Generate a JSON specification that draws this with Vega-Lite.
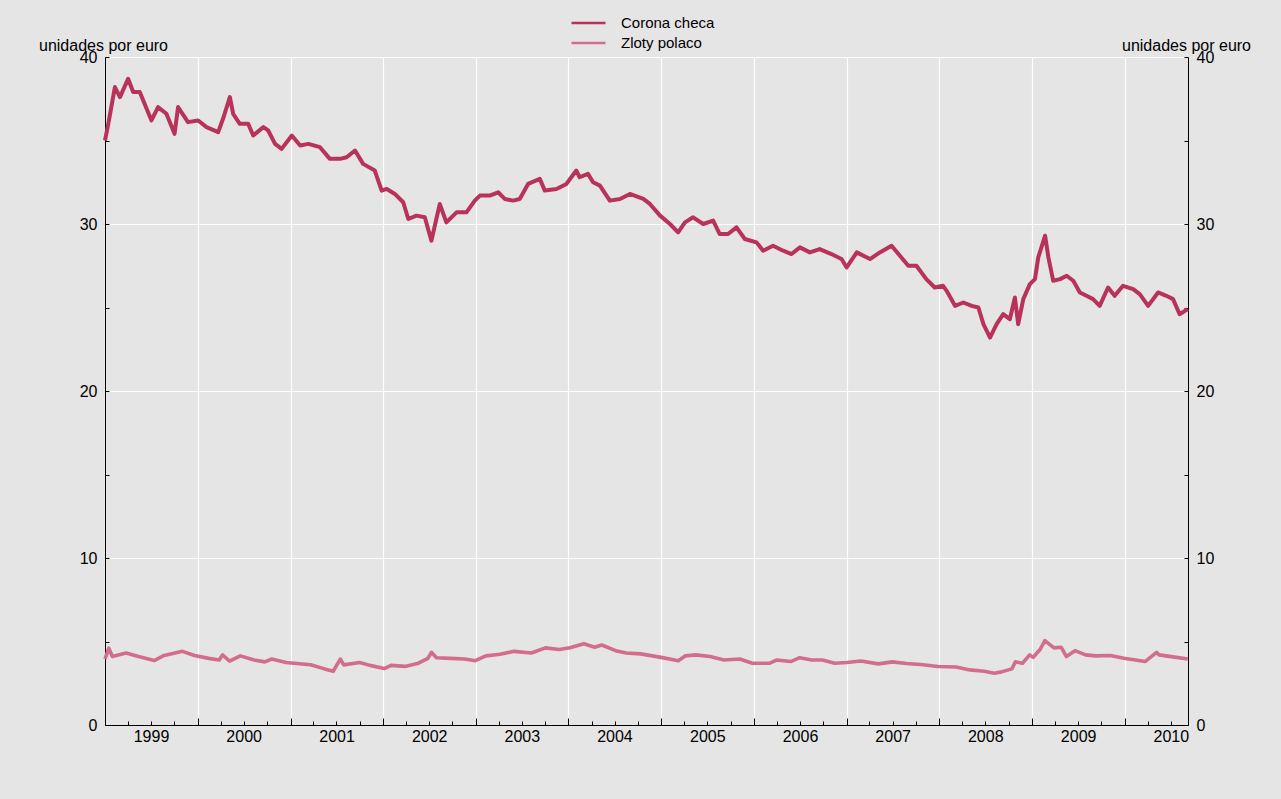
{
  "$schema": "https://vega.github.io/schema/vega-lite/v6.json",
  "width": 1083,
  "height": 668,
  "autosize": {"type": "none"},
  "padding": {"left": 105, "top": 57, "right": 93, "bottom": 74},
  "background": "#e5e5e5",
  "config": {
    "font": "Liberation Sans",
    "view": {"stroke": null},
    "axis": {"labelFont": "Liberation Sans", "titleFont": "Liberation Sans", "labelColor": "black", "titleColor": "black", "domainColor": "black", "tickColor": "black", "gridColor": "white", "gridWidth": 1.2, "labelFontSize": 16, "titleFontSize": 16, "titleFontWeight": "normal"}
  },
  "data": {
    "values": [
      {"d": "1999-01-01", "s": "Corona checa", "v": 35.0},
      {"d": "1999-01-14", "s": "Corona checa", "v": 36.0},
      {"d": "1999-02-09", "s": "Corona checa", "v": 38.2},
      {"d": "1999-03-01", "s": "Corona checa", "v": 37.6},
      {"d": "1999-04-02", "s": "Corona checa", "v": 38.7},
      {"d": "1999-04-22", "s": "Corona checa", "v": 37.9},
      {"d": "1999-05-18", "s": "Corona checa", "v": 37.9},
      {"d": "1999-07-03", "s": "Corona checa", "v": 36.2},
      {"d": "1999-07-29", "s": "Corona checa", "v": 37.0},
      {"d": "1999-08-31", "s": "Corona checa", "v": 36.6},
      {"d": "1999-10-02", "s": "Corona checa", "v": 35.4},
      {"d": "1999-10-16", "s": "Corona checa", "v": 37.0},
      {"d": "1999-11-24", "s": "Corona checa", "v": 36.1},
      {"d": "2000-01-03", "s": "Corona checa", "v": 36.2},
      {"d": "2000-02-05", "s": "Corona checa", "v": 35.8},
      {"d": "2000-03-22", "s": "Corona checa", "v": 35.5},
      {"d": "2000-04-10", "s": "Corona checa", "v": 36.3},
      {"d": "2000-05-07", "s": "Corona checa", "v": 37.6},
      {"d": "2000-05-20", "s": "Corona checa", "v": 36.6},
      {"d": "2000-06-15", "s": "Corona checa", "v": 36.0},
      {"d": "2000-07-18", "s": "Corona checa", "v": 36.0},
      {"d": "2000-08-07", "s": "Corona checa", "v": 35.3},
      {"d": "2000-09-16", "s": "Corona checa", "v": 35.8},
      {"d": "2000-10-05", "s": "Corona checa", "v": 35.6},
      {"d": "2000-11-01", "s": "Corona checa", "v": 34.8},
      {"d": "2000-11-27", "s": "Corona checa", "v": 34.5},
      {"d": "2001-01-06", "s": "Corona checa", "v": 35.3},
      {"d": "2001-02-08", "s": "Corona checa", "v": 34.7},
      {"d": "2001-03-12", "s": "Corona checa", "v": 34.8},
      {"d": "2001-04-27", "s": "Corona checa", "v": 34.6},
      {"d": "2001-06-05", "s": "Corona checa", "v": 33.9},
      {"d": "2001-07-15", "s": "Corona checa", "v": 33.9},
      {"d": "2001-08-10", "s": "Corona checa", "v": 34.0},
      {"d": "2001-09-12", "s": "Corona checa", "v": 34.4},
      {"d": "2001-10-14", "s": "Corona checa", "v": 33.6},
      {"d": "2001-11-29", "s": "Corona checa", "v": 33.2},
      {"d": "2001-12-26", "s": "Corona checa", "v": 32.0},
      {"d": "2002-01-15", "s": "Corona checa", "v": 32.1},
      {"d": "2002-02-16", "s": "Corona checa", "v": 31.8},
      {"d": "2002-03-21", "s": "Corona checa", "v": 31.3},
      {"d": "2002-04-10", "s": "Corona checa", "v": 30.3},
      {"d": "2002-05-12", "s": "Corona checa", "v": 30.5},
      {"d": "2002-06-14", "s": "Corona checa", "v": 30.4},
      {"d": "2002-07-10", "s": "Corona checa", "v": 29.0},
      {"d": "2002-08-12", "s": "Corona checa", "v": 31.2},
      {"d": "2002-09-07", "s": "Corona checa", "v": 30.1},
      {"d": "2002-10-17", "s": "Corona checa", "v": 30.7},
      {"d": "2002-11-25", "s": "Corona checa", "v": 30.7},
      {"d": "2002-12-28", "s": "Corona checa", "v": 31.4},
      {"d": "2003-01-17", "s": "Corona checa", "v": 31.7},
      {"d": "2003-02-25", "s": "Corona checa", "v": 31.7},
      {"d": "2003-03-30", "s": "Corona checa", "v": 31.9},
      {"d": "2003-04-25", "s": "Corona checa", "v": 31.5},
      {"d": "2003-05-28", "s": "Corona checa", "v": 31.4},
      {"d": "2003-06-23", "s": "Corona checa", "v": 31.5},
      {"d": "2003-07-26", "s": "Corona checa", "v": 32.4},
      {"d": "2003-09-10", "s": "Corona checa", "v": 32.7},
      {"d": "2003-09-30", "s": "Corona checa", "v": 32.0},
      {"d": "2003-11-15", "s": "Corona checa", "v": 32.1},
      {"d": "2003-12-24", "s": "Corona checa", "v": 32.4},
      {"d": "2004-02-01", "s": "Corona checa", "v": 33.2},
      {"d": "2004-02-14", "s": "Corona checa", "v": 32.8},
      {"d": "2004-03-18", "s": "Corona checa", "v": 33.0},
      {"d": "2004-04-07", "s": "Corona checa", "v": 32.5},
      {"d": "2004-05-04", "s": "Corona checa", "v": 32.3},
      {"d": "2004-06-12", "s": "Corona checa", "v": 31.4},
      {"d": "2004-07-22", "s": "Corona checa", "v": 31.5},
      {"d": "2004-08-30", "s": "Corona checa", "v": 31.8},
      {"d": "2004-10-22", "s": "Corona checa", "v": 31.5},
      {"d": "2004-11-17", "s": "Corona checa", "v": 31.2},
      {"d": "2004-12-27", "s": "Corona checa", "v": 30.5},
      {"d": "2005-02-04", "s": "Corona checa", "v": 30.0},
      {"d": "2005-03-08", "s": "Corona checa", "v": 29.5},
      {"d": "2005-04-04", "s": "Corona checa", "v": 30.1},
      {"d": "2005-05-06", "s": "Corona checa", "v": 30.4},
      {"d": "2005-06-15", "s": "Corona checa", "v": 30.0},
      {"d": "2005-07-24", "s": "Corona checa", "v": 30.2},
      {"d": "2005-08-19", "s": "Corona checa", "v": 29.4},
      {"d": "2005-09-21", "s": "Corona checa", "v": 29.4},
      {"d": "2005-10-24", "s": "Corona checa", "v": 29.8},
      {"d": "2005-11-26", "s": "Corona checa", "v": 29.1},
      {"d": "2006-01-11", "s": "Corona checa", "v": 28.9},
      {"d": "2006-02-06", "s": "Corona checa", "v": 28.4},
      {"d": "2006-03-17", "s": "Corona checa", "v": 28.7},
      {"d": "2006-04-26", "s": "Corona checa", "v": 28.4},
      {"d": "2006-05-29", "s": "Corona checa", "v": 28.2},
      {"d": "2006-07-01", "s": "Corona checa", "v": 28.6},
      {"d": "2006-08-09", "s": "Corona checa", "v": 28.3},
      {"d": "2006-09-17", "s": "Corona checa", "v": 28.5},
      {"d": "2006-11-02", "s": "Corona checa", "v": 28.2},
      {"d": "2006-12-12", "s": "Corona checa", "v": 27.9},
      {"d": "2007-01-01", "s": "Corona checa", "v": 27.4},
      {"d": "2007-02-10", "s": "Corona checa", "v": 28.3},
      {"d": "2007-04-03", "s": "Corona checa", "v": 27.9},
      {"d": "2007-05-12", "s": "Corona checa", "v": 28.3},
      {"d": "2007-06-27", "s": "Corona checa", "v": 28.7},
      {"d": "2007-07-30", "s": "Corona checa", "v": 28.1},
      {"d": "2007-09-01", "s": "Corona checa", "v": 27.5},
      {"d": "2007-10-03", "s": "Corona checa", "v": 27.5},
      {"d": "2007-11-11", "s": "Corona checa", "v": 26.7},
      {"d": "2007-12-14", "s": "Corona checa", "v": 26.2},
      {"d": "2008-01-16", "s": "Corona checa", "v": 26.3},
      {"d": "2008-01-30", "s": "Corona checa", "v": 26.0},
      {"d": "2008-03-03", "s": "Corona checa", "v": 25.1},
      {"d": "2008-04-05", "s": "Corona checa", "v": 25.3},
      {"d": "2008-05-08", "s": "Corona checa", "v": 25.1},
      {"d": "2008-06-03", "s": "Corona checa", "v": 25.0},
      {"d": "2008-06-23", "s": "Corona checa", "v": 24.0},
      {"d": "2008-07-19", "s": "Corona checa", "v": 23.2},
      {"d": "2008-08-14", "s": "Corona checa", "v": 24.0},
      {"d": "2008-09-09", "s": "Corona checa", "v": 24.6},
      {"d": "2008-10-05", "s": "Corona checa", "v": 24.3},
      {"d": "2008-10-25", "s": "Corona checa", "v": 25.6},
      {"d": "2008-11-07", "s": "Corona checa", "v": 24.0},
      {"d": "2008-11-27", "s": "Corona checa", "v": 25.5},
      {"d": "2008-12-23", "s": "Corona checa", "v": 26.4},
      {"d": "2009-01-12", "s": "Corona checa", "v": 26.7},
      {"d": "2009-01-25", "s": "Corona checa", "v": 28.0},
      {"d": "2009-02-21", "s": "Corona checa", "v": 29.3},
      {"d": "2009-03-06", "s": "Corona checa", "v": 28.0},
      {"d": "2009-03-25", "s": "Corona checa", "v": 26.6},
      {"d": "2009-04-21", "s": "Corona checa", "v": 26.7},
      {"d": "2009-05-17", "s": "Corona checa", "v": 26.9},
      {"d": "2009-06-12", "s": "Corona checa", "v": 26.6},
      {"d": "2009-07-08", "s": "Corona checa", "v": 25.9},
      {"d": "2009-08-03", "s": "Corona checa", "v": 25.7},
      {"d": "2009-08-29", "s": "Corona checa", "v": 25.5},
      {"d": "2009-09-24", "s": "Corona checa", "v": 25.1},
      {"d": "2009-10-27", "s": "Corona checa", "v": 26.2},
      {"d": "2009-11-22", "s": "Corona checa", "v": 25.7},
      {"d": "2009-12-25", "s": "Corona checa", "v": 26.3},
      {"d": "2010-02-03", "s": "Corona checa", "v": 26.1},
      {"d": "2010-03-01", "s": "Corona checa", "v": 25.8},
      {"d": "2010-04-03", "s": "Corona checa", "v": 25.1},
      {"d": "2010-05-12", "s": "Corona checa", "v": 25.9},
      {"d": "2010-06-14", "s": "Corona checa", "v": 25.7},
      {"d": "2010-07-10", "s": "Corona checa", "v": 25.5},
      {"d": "2010-08-05", "s": "Corona checa", "v": 24.6},
      {"d": "2010-09-06", "s": "Corona checa", "v": 24.9},
      {"d": "1999-01-01", "s": "Zloty polaco", "v": 3.95},
      {"d": "1999-01-16", "s": "Zloty polaco", "v": 4.6},
      {"d": "1999-01-30", "s": "Zloty polaco", "v": 4.1},
      {"d": "1999-03-25", "s": "Zloty polaco", "v": 4.31},
      {"d": "1999-05-13", "s": "Zloty polaco", "v": 4.1},
      {"d": "1999-07-14", "s": "Zloty polaco", "v": 3.86},
      {"d": "1999-08-18", "s": "Zloty polaco", "v": 4.14},
      {"d": "1999-11-02", "s": "Zloty polaco", "v": 4.41},
      {"d": "1999-12-20", "s": "Zloty polaco", "v": 4.16},
      {"d": "2000-02-14", "s": "Zloty polaco", "v": 3.99},
      {"d": "2000-03-26", "s": "Zloty polaco", "v": 3.89},
      {"d": "2000-04-08", "s": "Zloty polaco", "v": 4.2},
      {"d": "2000-05-06", "s": "Zloty polaco", "v": 3.83},
      {"d": "2000-06-17", "s": "Zloty polaco", "v": 4.14},
      {"d": "2000-08-11", "s": "Zloty polaco", "v": 3.89},
      {"d": "2000-09-22", "s": "Zloty polaco", "v": 3.78},
      {"d": "2000-10-19", "s": "Zloty polaco", "v": 3.95},
      {"d": "2000-12-14", "s": "Zloty polaco", "v": 3.74},
      {"d": "2001-03-21", "s": "Zloty polaco", "v": 3.61},
      {"d": "2001-05-15", "s": "Zloty polaco", "v": 3.36},
      {"d": "2001-06-18", "s": "Zloty polaco", "v": 3.22},
      {"d": "2001-07-16", "s": "Zloty polaco", "v": 3.95},
      {"d": "2001-07-30", "s": "Zloty polaco", "v": 3.6},
      {"d": "2001-09-30", "s": "Zloty polaco", "v": 3.74},
      {"d": "2001-11-10", "s": "Zloty polaco", "v": 3.57},
      {"d": "2002-01-05", "s": "Zloty polaco", "v": 3.38},
      {"d": "2002-02-01", "s": "Zloty polaco", "v": 3.57},
      {"d": "2002-03-28", "s": "Zloty polaco", "v": 3.51},
      {"d": "2002-05-16", "s": "Zloty polaco", "v": 3.68},
      {"d": "2002-06-26", "s": "Zloty polaco", "v": 3.99},
      {"d": "2002-07-10", "s": "Zloty polaco", "v": 4.35},
      {"d": "2002-07-30", "s": "Zloty polaco", "v": 4.03},
      {"d": "2002-09-24", "s": "Zloty polaco", "v": 3.99},
      {"d": "2002-11-18", "s": "Zloty polaco", "v": 3.95},
      {"d": "2002-12-30", "s": "Zloty polaco", "v": 3.85},
      {"d": "2003-02-10", "s": "Zloty polaco", "v": 4.14},
      {"d": "2003-04-06", "s": "Zloty polaco", "v": 4.24},
      {"d": "2003-05-31", "s": "Zloty polaco", "v": 4.41},
      {"d": "2003-08-08", "s": "Zloty polaco", "v": 4.31},
      {"d": "2003-10-02", "s": "Zloty polaco", "v": 4.62},
      {"d": "2003-11-26", "s": "Zloty polaco", "v": 4.52},
      {"d": "2004-01-07", "s": "Zloty polaco", "v": 4.62},
      {"d": "2004-03-02", "s": "Zloty polaco", "v": 4.87},
      {"d": "2004-04-13", "s": "Zloty polaco", "v": 4.66},
      {"d": "2004-05-11", "s": "Zloty polaco", "v": 4.79},
      {"d": "2004-07-05", "s": "Zloty polaco", "v": 4.45},
      {"d": "2004-08-16", "s": "Zloty polaco", "v": 4.31},
      {"d": "2004-10-11", "s": "Zloty polaco", "v": 4.26},
      {"d": "2004-12-31", "s": "Zloty polaco", "v": 4.05},
      {"d": "2005-03-09", "s": "Zloty polaco", "v": 3.85},
      {"d": "2005-04-06", "s": "Zloty polaco", "v": 4.14},
      {"d": "2005-05-17", "s": "Zloty polaco", "v": 4.2},
      {"d": "2005-07-12", "s": "Zloty polaco", "v": 4.1},
      {"d": "2005-09-05", "s": "Zloty polaco", "v": 3.89},
      {"d": "2005-11-06", "s": "Zloty polaco", "v": 3.95},
      {"d": "2005-12-25", "s": "Zloty polaco", "v": 3.7},
      {"d": "2006-03-04", "s": "Zloty polaco", "v": 3.7},
      {"d": "2006-03-31", "s": "Zloty polaco", "v": 3.89},
      {"d": "2006-05-26", "s": "Zloty polaco", "v": 3.8},
      {"d": "2006-06-30", "s": "Zloty polaco", "v": 4.03},
      {"d": "2006-08-17", "s": "Zloty polaco", "v": 3.89},
      {"d": "2006-09-28", "s": "Zloty polaco", "v": 3.89},
      {"d": "2006-11-15", "s": "Zloty polaco", "v": 3.7},
      {"d": "2007-01-02", "s": "Zloty polaco", "v": 3.74},
      {"d": "2007-02-26", "s": "Zloty polaco", "v": 3.83},
      {"d": "2007-05-06", "s": "Zloty polaco", "v": 3.66},
      {"d": "2007-06-30", "s": "Zloty polaco", "v": 3.78},
      {"d": "2007-08-25", "s": "Zloty polaco", "v": 3.68},
      {"d": "2007-10-19", "s": "Zloty polaco", "v": 3.62},
      {"d": "2007-12-27", "s": "Zloty polaco", "v": 3.5},
      {"d": "2008-03-07", "s": "Zloty polaco", "v": 3.47},
      {"d": "2008-05-01", "s": "Zloty polaco", "v": 3.3},
      {"d": "2008-06-25", "s": "Zloty polaco", "v": 3.22},
      {"d": "2008-08-05", "s": "Zloty polaco", "v": 3.1},
      {"d": "2008-09-02", "s": "Zloty polaco", "v": 3.18},
      {"d": "2008-10-13", "s": "Zloty polaco", "v": 3.36},
      {"d": "2008-10-27", "s": "Zloty polaco", "v": 3.78},
      {"d": "2008-11-24", "s": "Zloty polaco", "v": 3.7},
      {"d": "2008-12-22", "s": "Zloty polaco", "v": 4.2},
      {"d": "2009-01-05", "s": "Zloty polaco", "v": 4.05},
      {"d": "2009-02-01", "s": "Zloty polaco", "v": 4.52},
      {"d": "2009-02-20", "s": "Zloty polaco", "v": 5.05},
      {"d": "2009-03-28", "s": "Zloty polaco", "v": 4.62},
      {"d": "2009-04-25", "s": "Zloty polaco", "v": 4.66},
      {"d": "2009-05-16", "s": "Zloty polaco", "v": 4.1},
      {"d": "2009-06-19", "s": "Zloty polaco", "v": 4.45},
      {"d": "2009-07-30", "s": "Zloty polaco", "v": 4.2},
      {"d": "2009-09-09", "s": "Zloty polaco", "v": 4.14},
      {"d": "2009-11-04", "s": "Zloty polaco", "v": 4.16},
      {"d": "2009-12-29", "s": "Zloty polaco", "v": 4.0},
      {"d": "2010-03-22", "s": "Zloty polaco", "v": 3.8},
      {"d": "2010-05-06", "s": "Zloty polaco", "v": 4.35},
      {"d": "2010-05-16", "s": "Zloty polaco", "v": 4.2},
      {"d": "2010-07-10", "s": "Zloty polaco", "v": 4.08},
      {"d": "2010-09-06", "s": "Zloty polaco", "v": 3.95}
    ]
  },
  "encoding": {
    "x": {
      "field": "d",
      "type": "temporal",
      "scale": {"type": "utc", "nice": false, "domain": [{"year": 1999, "month": 1, "date": 1, "utc": true}, {"year": 2010, "month": 9, "date": 7, "utc": true}]},
      "axis": {
        "title": null,
        "tickCount": {"interval": "month", "step": 3},
        "labelExpr": "utcmonth(datum.value) == 0 ? utcFormat(datum.value, '%Y') : ''",
        "labelOffset": 46,
        "labelOverlap": false,
        "labelFlush": false,
        "labelPadding": 10,
        "labelBaseline": "top",
        "tickSize": {"condition": {"test": "utcmonth(datum.value) == 0", "value": -7}, "value": -4},
        "grid": true,
        "gridOpacity": {"condition": {"test": "utcmonth(datum.value) == 0", "value": 1}, "value": 0}
      }
    },
    "color": {
      "field": "s",
      "type": "nominal",
      "scale": {"domain": ["Corona checa", "Zloty polaco"], "range": ["#b8325a", "#d26e8c"]},
      "legend": {
        "title": null,
        "orient": "none",
        "legendX": 465,
        "legendY": -43,
        "padding": 0,
        "symbolType": "stroke",
        "symbolSize": 1156,
        "symbolStrokeWidth": 2.5,
        "clipHeight": 18,
        "rowPadding": 2,
        "labelOffset": 14,
        "labelFontSize": 15,
        "labelFont": "Liberation Sans",
        "labelColor": "black"
      }
    }
  },
  "layer": [
    {
      "transform": [{"filter": "datum.s == 'Corona checa'"}],
      "mark": {"type": "line", "strokeWidth": 4, "strokeJoin": "round"},
      "encoding": {
        "y": {
          "field": "v",
          "type": "quantitative",
          "scale": {"domain": [0, 40], "nice": false},
          "axis": {
            "orient": "left",
            "title": "unidades por euro",
            "titleAngle": 0,
            "titleAlign": "center",
            "titleBaseline": "alphabetic",
            "titleX": -2,
            "titleY": -7,
            "values": [0, 5, 10, 15, 20, 25, 30, 35, 40],
            "labelExpr": "datum.value % 10 == 0 ? datum.label : ''",
            "tickSize": -4,
            "labelPadding": 12,
            "grid": true,
            "gridOpacity": {"condition": {"test": "datum.value % 10 == 0", "value": 1}, "value": 0}
          }
        }
      }
    },
    {
      "transform": [{"filter": "datum.s == 'Zloty polaco'"}],
      "mark": {"type": "line", "strokeWidth": 3.6, "strokeJoin": "round"},
      "encoding": {
        "y": {
          "field": "v",
          "type": "quantitative",
          "scale": {"domain": [0, 40], "nice": false},
          "axis": {
            "orient": "right",
            "title": "unidades por euro",
            "titleAngle": 0,
            "titleAlign": "center",
            "titleBaseline": "alphabetic",
            "titleX": -2,
            "titleY": -7,
            "values": [0, 5, 10, 15, 20, 25, 30, 35, 40],
            "labelExpr": "datum.value % 10 == 0 ? datum.label : ''",
            "tickSize": -4,
            "labelPadding": 12,
            "grid": false
          }
        }
      }
    }
  ],
  "resolve": {"axis": {"y": "independent"}}
}
